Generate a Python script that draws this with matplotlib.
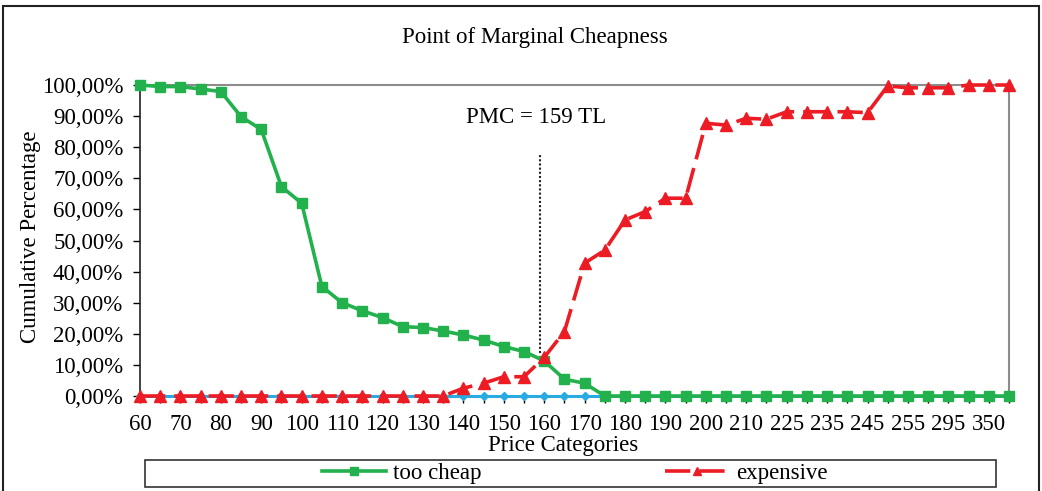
import matplotlib
matplotlib.use("Agg")
import matplotlib.pyplot as plt
from matplotlib.patches import Rectangle
from matplotlib.ticker import FuncFormatter

plt.rcParams['font.family'] = ['Liberation Serif', 'DejaVu Serif']

categories = ["60", "65", "70", "75", "80", "85", "90", "95", "100", "105",
              "110", "115", "120", "125", "130", "135", "140", "145", "150", "155",
              "160", "165", "170", "175", "180", "185", "190", "195", "200", "205",
              "210", "220", "225", "230", "235", "240", "245", "250", "255", "275",
              "295", "300", "350", "400"]

too_cheap = [100.0, 99.5, 99.5, 98.7, 97.9, 89.8, 85.7, 67.3, 62.0, 35.2,
             30.0, 27.4, 25.2, 22.3, 22.0, 20.9, 19.6, 18.0, 15.9, 14.3,
             11.3, 5.4, 4.1, 0, 0, 0, 0, 0, 0, 0,
             0, 0, 0, 0, 0, 0, 0, 0, 0, 0,
             0, 0, 0, 0]

expensive = [0, 0, 0, 0, 0, 0, 0, 0, 0, 0,
             0, 0, 0, 0, 0, 0, 2.5, 4.1, 6.2, 6.2,
             12.4, 20.7, 42.7, 46.9, 56.6, 59.3, 63.6, 63.6, 87.7, 87.1,
             89.3, 89.0, 91.4, 91.4, 91.4, 91.4, 91.1, 99.7, 99.1, 99.1,
             99.1, 100.0, 100.0, 100.0]

other = [0] * 44  # light blue series (all zero in the chart)

pmc_value = 159
pmc_label = "PMC = 159 TL"

FS = 16.5
W, H = 1042, 491
fig = plt.figure(figsize=(W / 100, H / 100), dpi=100)
ax = fig.add_axes([140 / W, (H - 396) / H, 869 / W, 311 / H])

x = list(range(len(categories)))
ax.plot(x, other, color="#29abe2", lw=2.2, marker="D", markersize=4.5, zorder=3, clip_on=False)
ax.plot(x, too_cheap, color="#22b14c", lw=2.6, marker="s", markersize=6.5, zorder=4,
        clip_on=False, label="too cheap")
ax.plot(x, expensive, color="#ed1c24", lw=2.6, marker="^", markersize=8, zorder=5,
        clip_on=False, linestyle=(0, (7, 2.5)), label="expensive")

# PMC vertical dotted line
pmc_pos = (pmc_value - 60) / 5.0
ax.plot([pmc_pos, pmc_pos], [13.9, 77.5], color="#222222", lw=1.5, linestyle=(0, (1, 1)), zorder=6)
ax.text(pmc_pos - 0.2, 89.5, pmc_label, ha="center", va="center", fontsize=FS)

ax.set_xlim(0, len(categories) - 1)
ax.set_ylim(0, 100)
ax.set_xticks(x)
ax.set_xticklabels([c if i % 2 == 0 else "" for i, c in enumerate(categories)], fontsize=FS)
ax.set_yticks(range(0, 101, 10))
ax.yaxis.set_major_formatter(FuncFormatter(lambda v, p: f"{v:.2f}".replace(".", ",") + "%"))
ax.tick_params(axis="y", labelsize=FS, length=5, width=1, pad=7)
ax.tick_params(axis="x", length=5, width=1, pad=8)

for s in ["top", "right"]:
    ax.spines[s].set_color("#8c8c8c")
    ax.spines[s].set_linewidth(1.5)
ax.spines["left"].set_color("#222222")
ax.spines["bottom"].set_color("#333333")
ax.spines["left"].set_linewidth(1.2)
ax.spines["bottom"].set_linewidth(1.2)

fig.text(535 / W, 1 - 38 / H, "Point of Marginal Cheapness", ha="center", va="center", fontsize=FS)
fig.text(563 / W, 1 - 446 / H, "Price Categories", ha="center", va="center", fontsize=FS)
fig.text(31 / W, 1 - 237 / H, "Cumulative Percentage", ha="center", va="center",
         rotation=90, fontsize=FS)

# legend box
fig.patches.append(Rectangle((145 / W, 1 - 487 / H), 851 / W, 27 / H, transform=fig.transFigure,
                             fill=False, edgecolor="#333333", lw=1.2))
# outer frame
fig.patches.append(Rectangle((3 / W, -0.05), 1036 / W, 1 - 6 / H + 0.05, transform=fig.transFigure,
                             fill=False, edgecolor="#222222", lw=1.5))

handles, labels = ax.get_legend_handles_labels()
leg = fig.legend(handles, labels, loc="center", bbox_to_anchor=(575 / W, 1 - 473 / H), ncol=2,
                 frameon=False, prop={"family": "Liberation Serif", "size": FS},
                 handlelength=2.8, handletextpad=0.3,
                 columnspacing=8.0, markerscale=0.8, borderpad=0)
for h in leg.legend_handles:
    h.set_markevery([1])

fig.savefig("out.png", dpi=100)
